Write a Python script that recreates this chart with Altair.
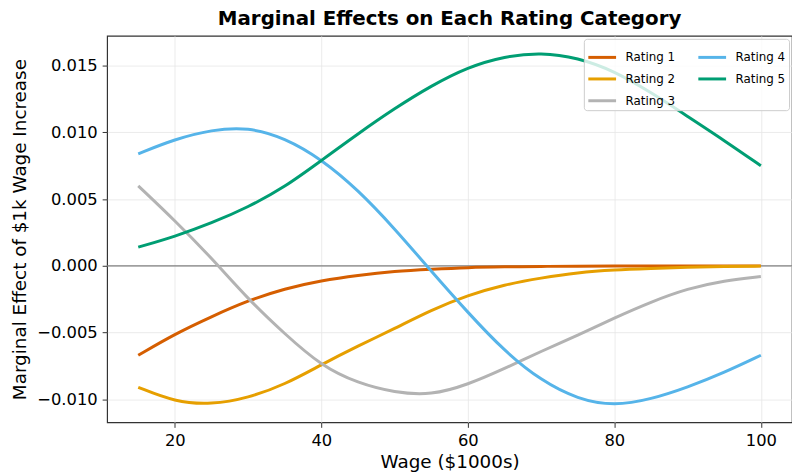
import altair as alt
import pandas as pd

wage = [15, 20, 25, 30, 35, 40, 45, 50, 55, 60, 65, 70, 75, 80, 85, 90, 95, 100]
rating1 = [-0.0067, -0.0051, -0.0038, -0.0026, -0.0017, -0.0011, -0.0007, -0.0004, -0.00025, -0.00012,
           -0.00007, -0.00004, -0.00002, -0.00001, -0.000005, 0.0, 0.0, 0.0]
rating2 = [-0.0091, -0.0102, -0.0104, -0.0099, -0.0089, -0.0074, -0.0060, -0.0047, -0.0033, -0.0022,
           -0.0014, -0.0009, -0.0005, -0.0003, -0.0002, -0.0001, -0.00005, -0.00002]
rating3 = [0.0060, 0.0034, 0.0006, -0.0025, -0.0051, -0.0075, -0.0088, -0.0095, -0.0097, -0.0089,
           -0.0077, -0.0064, -0.0052, -0.0039, -0.0027, -0.0017, -0.0011, -0.0008]
rating4 = [0.0084, 0.0095, 0.0102, 0.0104, 0.0096, 0.0080, 0.0057, 0.0028, -0.0004, -0.0035,
           -0.0064, -0.0086, -0.0100, -0.0105, -0.0100, -0.0091, -0.0080, -0.0067]
rating5 = [0.0014, 0.0022, 0.0032, 0.0044, 0.0059, 0.0079, 0.0099, 0.0118, 0.0135, 0.0149,
           0.0157, 0.0160, 0.0156, 0.0146, 0.0130, 0.0112, 0.0094, 0.0075]

series_names = ["Rating 1", "Rating 2", "Rating 3", "Rating 4", "Rating 5"]
series_values = [rating1, rating2, rating3, rating4, rating5]
series_colors = ["#D55E00", "#E69F00", "#B3B3B3", "#56B4E9", "#009E73"]
y_ticks = [-0.010, -0.005, 0.0, 0.005, 0.010, 0.015]
x_ticks = [20, 40, 60, 80, 100]

rows = []
for name, vals in zip(series_names, series_values):
    for w, v in zip(wage, vals):
        rows.append({"wage": w, "effect": v, "series": name})
df = pd.DataFrame(rows)

x_scale = alt.Scale(domain=[10.75, 104.25], nice=False, zero=False)
y_scale = alt.Scale(domain=[-0.01173, 0.01724], nice=False, zero=False)

zero_line = alt.Chart(pd.DataFrame({"y": [0.0]})).mark_rule(
    color="#808080", strokeWidth=1.5
).encode(y=alt.Y("y:Q", scale=y_scale))

lines = alt.Chart(df).mark_line(strokeWidth=3, interpolate="basis").encode(
    x=alt.X("wage:Q", scale=x_scale,
            axis=alt.Axis(title="Wage ($1000s)", values=x_ticks, format="d")),
    y=alt.Y("effect:Q", scale=y_scale,
            axis=alt.Axis(title="Marginal Effect of $1k Wage Increase", values=y_ticks, format=".3f")),
    color=alt.Color("series:N",
                    scale=alt.Scale(domain=series_names, range=series_colors),
                    legend=alt.Legend(title=None, orient="none", legendX=481, legendY=3, columns=2,
                                      symbolType="stroke", symbolSize=784, symbolStrokeWidth=3,
                                      labelFontSize=12, labelFont="DejaVu Sans", labelColor="black",
                                      fillColor="rgba(255,255,255,0.8)", strokeColor="#cccccc",
                                      padding=3, cornerRadius=3,
                                      columnPadding=16, rowPadding=-7, labelOffset=8)),
    detail="series:N",
)

chart = alt.layer(zero_line, lines).properties(
    width=691, height=390,
    title=alt.TitleParams("Marginal Effects on Each Rating Category",
                          font="DejaVu Sans", fontSize=20, fontWeight="bold",
                          anchor="middle", offset=7, color="black"),
    autosize=alt.AutoSizeParams(type="none"),
    padding={"left": 100, "top": 26, "right": 0, "bottom": 51},
).configure_view(
    stroke="#333333", strokeWidth=1.2
).configure_axis(
    domain=False,
    grid=True, gridColor="#e6e6e6", gridWidth=0.8,
    tickColor="#333333", tickSize=5, tickWidth=1,
    labelFont="DejaVu Sans", labelFontSize=16.5, labelColor="black", labelPadding=5,
    titleFont="DejaVu Sans", titleFontSize=18.5, titleFontWeight="normal", titleColor="black",
).configure_axisY(
    titlePadding=7
).configure_axisX(
    titlePadding=4
)

chart.save("out.html", embed_options={"renderer": "svg", "actions": False})
